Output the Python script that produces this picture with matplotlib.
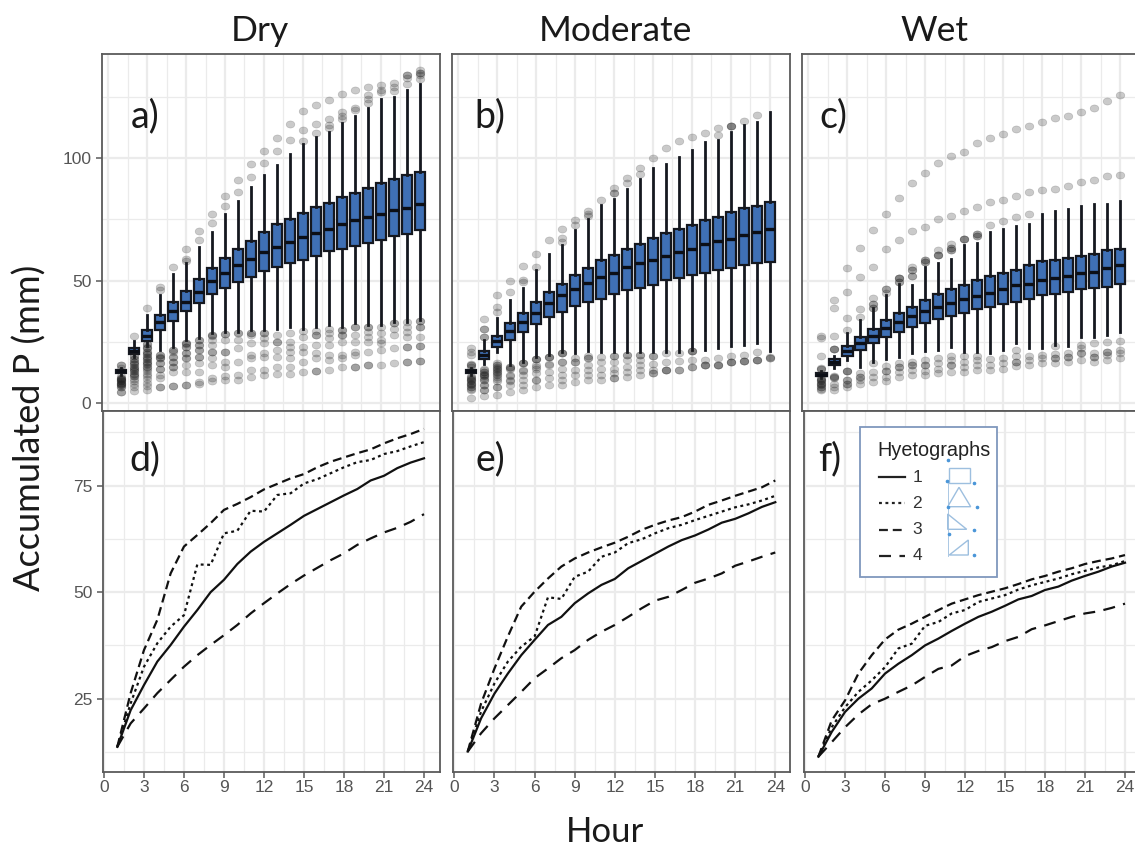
import matplotlib
matplotlib.use("Agg")
import matplotlib.pyplot as plt
from matplotlib.markers import MarkerStyle
from matplotlib.transforms import Affine2D
from matplotlib.patches import Rectangle, Polygon

hours = list(range(1, 25))

# panel a (Dry) box stats
a_q1 = [12.3, 20, 25.5, 29.7, 33.5, 37.6, 40.7, 44.4, 47, 49.4, 51.5, 53.9, 55.4, 57, 58.6, 60.2, 61.9, 63, 64.3, 65.5, 66.6, 68.2, 69.2, 70.6]
a_med = [13, 21.2, 27.5, 33.2, 37.5, 41.5, 45.5, 50, 53, 56.5, 59, 61.7, 63.8, 65.8, 67.6, 69.4, 71, 72.9, 74.5, 75.9, 77, 78.6, 79.6, 81.4]
a_q3 = [13.7, 22.7, 30, 36.2, 41.4, 45.7, 50.5, 55, 59.4, 63, 66.3, 69.9, 72.9, 75.3, 77.5, 79.8, 81.7, 83.9, 85.8, 87.7, 89.6, 91.6, 93.1, 94.3]
a_lo = [11.5, 19, 23.5, 21.7, 23, 25.8, 26.5, 28.5, 29, 29, 29.9, 29.9, 30.5, 31.2, 30.5, 31.2, 31.9, 31.2, 32.6, 31.9, 31.9, 33.2, 33.2, 33.9]
a_hi = [14.5, 25.5, 36, 44, 52.6, 57, 63.8, 69.7, 77, 82.4, 88, 93, 97.3, 101.6, 105.8, 108.5, 110.6, 114.2, 117, 120.5, 124, 125, 127.8, 130.2]
a_out = [
    [15.5, 15.5, 14.5, 11, 10.5, 10.5, 10, 10, 9.5, 9.5, 9, 9, 8.5, 8.5, 8, 8, 7.5, 7.5, 6.5, 6.5, 4.5, 4.5],
    [27.5, 19.5, 19.5, 18, 18, 17, 17, 16, 16, 15, 15, 14, 14, 13, 13, 12, 12, 11, 11, 10, 9, 8, 6.5, 5],
    [38.7, 24, 24, 23, 22.5, 22.5, 21, 21, 20, 20, 19, 19, 18, 18, 17, 17, 16, 16, 15, 15, 14, 13, 12, 11, 10, 8.5, 7, 5.5],
    [47.5, 46, 19.7, 19.7, 19, 18.3, 18.3, 16.3, 16.3, 14.2, 14.2, 11.5, 10.2, 6.5, 6.5],
    [55.6, 21.7, 21.7, 21, 19, 19, 16.9, 16.9, 15, 15, 12.9, 7, 7],
    [62.8, 59, 58, 24.4, 24.4, 24, 23, 23, 20.4, 20.4, 18.3, 18.3, 15.6, 12.9, 7.5, 7.5],
    [70.4, 66.6, 25.8, 25.8, 23.7, 23.7, 21.7, 21.7, 19, 19, 16.3, 12.9, 8.8, 8.1],
    [77, 73.3, 27.8, 27.8, 27.5, 25.8, 23.7, 21, 21, 18.3, 15.6, 10.2, 9.2],
    [84.5, 80.6, 28.1, 28.1, 25.8, 21, 21, 16.9, 14.9, 11, 9.5],
    [91.2, 86.2, 28.5, 28.5, 25.8, 22.7, 16.9, 11.5, 9.5],
    [97.4, 92.1, 28.8, 28.8, 27.8, 24.4, 19.7, 18.3, 13.6, 10.9],
    [102.7, 98, 28.8, 28.8, 26.5, 24.7, 20.4, 19, 13.6, 11.5],
    [108.3, 103, 27.8, 25, 25, 21.7, 19, 14.9, 11.8],
    [114, 107.3, 28.5, 25, 23, 21, 18.3, 14.9, 12],
    [119, 111.5, 106.9, 29.4, 27.1, 23, 21, 16.9, 12.9],
    [121.4, 113.7, 110, 29.6, 27.8, 27.8, 23.7, 20.4, 18.3, 13.3, 13.3],
    [123.6, 116, 113.3, 112.2, 30.5, 28.5, 26.5, 23.7, 19.7, 17.6, 13.6],
    [126, 118.7, 117, 116, 29.8, 29.8, 27.8, 27.8, 25, 19.7, 18.3, 15],
    [127.8, 120.5, 119.4, 31, 31, 27.8, 25, 21, 19.7, 15, 15],
    [128.9, 125.5, 123.9, 122.5, 31.2, 31.2, 29.2, 27.1, 25, 21, 15.6, 15.6],
    [129.6, 127.8, 126.9, 31, 28.5, 25.8, 24.4, 21.7, 15.6],
    [130.7, 128.9, 127.1, 32.6, 32.6, 30.5, 27.8, 22.4, 16.3],
    [133.6, 133.6, 132.7, 130.3, 33.2, 31.2, 29.2, 26.9, 23, 23, 16.9, 16.9],
    [135.7, 134.6, 134.6, 133.6, 132, 33.6, 33.6, 31.2, 31.2, 27.1, 23.5, 23.5, 17.4, 17.4],
]

# panel b (Moderate) box stats
b_q1 = [12.2, 17.9, 22.8, 25.8, 28.9, 32.3, 35, 37.4, 39.5, 41.2, 42.7, 44.4, 46.1, 47.1, 48.4, 50.2, 51, 52.4, 53.2, 54.5, 55.2, 56.3, 57, 57.7]
b_med = [13, 19.8, 25.3, 29.3, 33.2, 37, 40.8, 44, 46.6, 49, 51.3, 53, 55.4, 57, 58.4, 60, 61.5, 63, 64.8, 66, 66.9, 68.4, 70, 71]
b_q3 = [13.6, 21.4, 27.5, 32.8, 36.9, 41.2, 45.5, 48.7, 52.1, 55, 58.3, 60.5, 62.8, 65.1, 67.3, 69.5, 71.1, 72.7, 74.5, 76.1, 78, 79.4, 80.6, 82.1]
b_lo = [11.5, 16, 21, 15.6, 17, 19, 19.7, 21, 20.6, 21.3, 21, 21, 21, 21, 21, 21, 21, 21.7, 21.7, 22.7, 23.3, 23.7, 24.7, 21.3]
b_hi = [14.5, 25.8, 34.6, 42, 46.8, 54.3, 61, 64.5, 70.6, 75.3, 81, 83.4, 87.5, 91.6, 95.7, 97.7, 100.4, 103.1, 106.5, 107.2, 110.6, 113.3, 114.7, 118.7]
b_out = [
    [22.4, 21, 19.7, 16, 15.6, 15.6, 15, 11, 10.9, 10.5, 10, 9.5, 9.5, 9, 8.5, 8.1, 8, 7.5, 6.8, 6.8, 6, 5.4, 2.3],
    [34.2, 30.5, 30.5, 27.1, 27.1, 14, 13.5, 12.9, 12.9, 12, 11.5, 11.5, 11, 10.5, 9.5, 9.5, 7.5, 7.5, 5.4, 5.4, 3.1],
    [44, 39.3, 37.3, 16.5, 15.6, 15.6, 15, 14.5, 14, 13.5, 12.9, 12.9, 12, 11.5, 10.9, 10, 9, 6.8, 6.8, 3.4],
    [50, 45.5, 15, 14.9, 14.5, 14, 11.5, 11, 9.5, 9, 7.5, 4.7],
    [55.9, 50.2, 49.5, 16.3, 16.3, 16.3, 13.6, 13, 11.5, 9.5, 7.5, 5.4],
    [60.9, 55.4, 18, 18, 18, 15.6, 14.9, 14, 12.2, 9.5, 9.5, 6.8],
    [66.4, 18.7, 18.7, 18.7, 16, 15.6, 12.9, 10.2, 7.5],
    [71.1, 67.4, 65.8, 20.4, 20.4, 20.4, 17, 17, 14.2, 11.5, 9.5, 7.5],
    [74.6, 72.6, 18.3, 17, 17, 13.6, 11.5, 8.8],
    [78.3, 77.3, 76.4, 19.3, 18.3, 18.3, 15.6, 13.6, 11.5, 9.5],
    [83, 19, 17, 14.2, 11.5, 9.5],
    [87.8, 85.5, 85.5, 19.3, 19.3, 17, 14.2, 12.2, 10.2, 10.2],
    [91.9, 89.8, 19.7, 19.7, 17.6, 14.9, 12.9, 10.9],
    [95.9, 93.6, 19.7, 19.7, 17.6, 15.6, 13.6, 11.5],
    [100, 19.3, 19.3, 16, 13.8, 12.5, 12.5],
    [103.9, 20.4, 17, 13.6, 13.6, 13.6],
    [106.9, 20.6, 17.4, 13.6, 13.6],
    [108.4, 21.4, 21.4, 21.4, 17.6, 14.9, 14.9],
    [110.2, 17.6, 15.6, 15.6, 15.6],
    [112.2, 109.2, 18.3, 15.6, 15.6, 15.6],
    [112.9, 112.9, 112.9, 19.3, 16.7, 16.7, 16.7],
    [115.2, 19.7, 17.4, 17.4, 17.4],
    [117.6, 20.8, 17.6, 17.6, 17.6],
    [18.9, 18.3, 18.3],
]

# panel c (Wet) box stats
c_q1 = [11, 15.6, 19.4, 21.7, 24.7, 26.9, 29.2, 31.2, 32.6, 34.2, 35.7, 36.9, 38.3, 39.2, 40.4, 41.4, 42.7, 44.1, 44.6, 45.2, 46.5, 47.2, 47.5, 48.7]
c_med = [11.7, 16.8, 21.4, 24.7, 27.5, 30.8, 33.2, 35.8, 37.5, 39.3, 40.7, 42.4, 43.9, 45, 46.4, 48.2, 48.7, 50.3, 51, 52, 53, 53.6, 55.1, 56.5]
c_q3 = [12.2, 17.9, 23.3, 26.9, 30.1, 33.9, 36.9, 39.3, 42.1, 44.4, 46.4, 48.2, 50.2, 51.8, 53.3, 54.5, 56.2, 57.8, 58.6, 59.4, 60.2, 61, 62.3, 63]
c_lo = [10.5, 14.5, 17.5, 14.9, 17, 17.9, 19, 20.4, 21.3, 21.7, 22.8, 21, 21, 20.6, 21.7, 24.4, 22.7, 22.7, 23.7, 23.5, 26.9, 27, 27.8, 29.2]
c_hi = [13, 19.5, 28.5, 33.9, 38.7, 44, 48.8, 48.2, 55.6, 57, 59, 64.5, 65.2, 69.9, 71, 72.3, 73, 77.3, 78.4, 79.1, 80.5, 81.1, 81.4, 82.5]
c_out = [
    [27.5, 26.5, 19.4, 14.6, 14, 14, 10.5, 10, 9.5, 9.5, 9, 8.5, 8.1, 8.1, 7.5, 6.8, 6.8, 6, 5.4],
    [42, 38.7, 27.5, 22.1, 22.1, 22.1, 11, 10.9, 10.9, 10.5, 8.1, 6.8, 5.4],
    [55, 45.3, 34.6, 30, 13.3, 13.3, 13.3, 9.5, 9.5, 8.1, 8.1, 6.5],
    [63.5, 51.6, 38.3, 35, 12.5, 10.9, 10.9, 9.5, 8.1],
    [70.6, 55.6, 43, 40.3, 40.3, 39, 39, 16.3, 12.9, 10.9, 8.8],
    [77.3, 62.8, 46.4, 46.4, 45, 15.2, 13.3, 13.3, 10.9, 9.2],
    [83.7, 66.4, 50.9, 50.9, 50.9, 49.5, 49.5, 16.6, 14.9, 14.9, 12.9, 10.6],
    [89.8, 70.2, 55.6, 54.3, 54.3, 52, 52, 17, 15.6, 15.6, 13.6, 11.5],
    [93.9, 71.9, 58.3, 58.3, 57.4, 57.4, 17.6, 15.6, 15.6, 13.3, 11.5],
    [98, 75, 62.4, 60.4, 60.4, 60.4, 18.3, 16.3, 14.2, 12.2],
    [100.8, 76.4, 65, 63.4, 63.4, 62.4, 62.4, 19.4, 17.6, 15.6, 15.6, 12.9],
    [102.4, 78.2, 66.8, 66.8, 66.8, 19.4, 17, 14.9, 12.9],
    [106.2, 80, 69.2, 69.2, 68.2, 68.2, 19.4, 17.6, 15.6, 13.6],
    [108, 82, 72.6, 17.9, 15.6, 13.6],
    [109.9, 82.9, 74.2, 18.3, 16.3, 14.2],
    [111.8, 84.4, 76, 21.7, 19.3, 17, 17, 15.2],
    [112.9, 86, 77, 19.3, 17.6, 15.6],
    [114.5, 87, 19.7, 18.3, 16.3],
    [116.1, 87.4, 23.3, 20.1, 18.3, 18.3, 16.3],
    [117.1, 88.7, 20.4, 19, 19, 17],
    [118.5, 90.2, 23.7, 22.4, 20.4, 20.4, 17.6],
    [120.2, 91, 24.7, 20.4, 19, 19, 17],
    [123.2, 92.5, 25, 21, 21, 19.7, 17.6],
    [125.5, 93.2, 25.5, 21.7, 20.4, 18.3],
]

# accumulated P of the four hyetographs
d_h1 = [13.7, 22.3, 28.2, 33.7, 37.6, 41.9, 45.8, 50, 52.9, 56.6, 59.5, 61.8, 63.8, 65.8, 67.9, 69.5, 71.1, 72.7, 74.2, 76.2, 77.3, 79.1, 80.4, 81.4]
d_h2 = [13.7, 23.9, 32.5, 38, 41.9, 44.6, 56.5, 56.4, 63.8, 64.4, 69.1, 68.9, 72.8, 73.2, 75.5, 76.5, 77.9, 79.3, 80.5, 81, 82.4, 83.1, 84.2, 85.2]
d_h3 = [13.7, 26.3, 36.4, 43.5, 54.4, 60.7, 63.4, 66.2, 69.3, 70.7, 72.3, 74.1, 75.4, 76.7, 77.7, 79.3, 80.6, 81.6, 82.6, 83.5, 84.9, 86.1, 87.1, 88.3]
d_h4 = [13.7, 19.2, 22.7, 26.3, 29.4, 32.5, 35.2, 37.6, 39.9, 42.3, 45, 47.4, 49.7, 51.9, 53.9, 55.7, 57.5, 59.1, 61.1, 62.6, 64, 65.1, 66.5, 68.3]

e_h1 = [12.6, 20.4, 26.2, 30.9, 35.2, 38.8, 42.3, 44.2, 47.4, 49.7, 51.7, 53.1, 55.6, 57.3, 59, 60.7, 62.2, 63.3, 64.7, 66.3, 67.2, 68.5, 70, 71.1]
e_h2 = [12.6, 22, 28.6, 33.7, 37.2, 39.6, 48.8, 48.4, 53.6, 54.8, 58.3, 59.3, 61.5, 62.4, 63.8, 65, 65.8, 66.9, 67.9, 68.9, 69.9, 70.6, 71.5, 72.6]
e_h3 = [12.6, 23.9, 32.1, 39.6, 46.6, 50.1, 53.2, 56, 57.9, 59.3, 60.5, 61.6, 63, 64.6, 65.8, 66.8, 67.6, 68.9, 70.5, 71.5, 72.6, 73.6, 74.6, 76.2]
e_h4 = [12.6, 16.9, 20.4, 23.5, 26.6, 29.8, 32.1, 34.5, 36.4, 38.8, 40.7, 42.3, 44.2, 46.2, 48, 48.9, 50.5, 52.2, 53.2, 54.4, 56.2, 57.2, 58.3, 59.3]

f_h1 = [11.4, 17.2, 21.9, 25, 27.4, 30.9, 33.2, 35.2, 37.5, 39.1, 40.9, 42.6, 44.2, 45.4, 46.8, 48.3, 49.1, 50.5, 51.3, 52.7, 53.8, 54.8, 56, 56.9]
f_h2 = [11.4, 18.3, 23, 26.6, 29.3, 32.4, 36.8, 37.9, 42.1, 43, 45, 45.8, 47.7, 48.5, 49.3, 50.6, 51.6, 52.4, 53.2, 54.2, 55, 55.8, 56.3, 57.3]
f_h3 = [11.4, 19.9, 24.6, 30.9, 35.2, 38.9, 41.2, 42.6, 44.2, 45.8, 47.3, 48.3, 49.3, 50.1, 50.9, 51.9, 53, 53.8, 54.8, 55.6, 56.6, 57.3, 57.9, 58.7]
f_h4 = [11.4, 14.8, 18.3, 21.3, 23.7, 25, 26.6, 28.1, 30.1, 32, 32.8, 35, 36.2, 37.1, 38.5, 39.5, 41.3, 42.2, 43.2, 44.2, 45, 45.5, 46.3, 47.3]

titles = ["Dry", "Moderate", "Wet"]
legend_labels = ["1", "2", "3", "4"]

W, H = 1135, 846
GRID = "#ebebeb"
SPINE = "#5a5a5a"
TICKC = "#555555"
BLUE = "#3f70b5"
LSTYLES = ["-", (0, (1.3, 1.6)), (0, (4, 2.2)), (0, (5.4, 3.8))]
plt.rcParams["font.family"] = ["Liberation Sans", "DejaVu Sans"]
TITLEFONT = ["Lato", "DejaVu Sans"]

fig = plt.figure(figsize=(W / 100, H / 100), dpi=100)


def px_axes(left, right, top, bottom):
    return fig.add_axes([left / W, 1 - bottom / H, (right - left) / W, (bottom - top) / H])


def style_axes(ax, yticks, yminor, xlim, ylim):
    ax.set_xlim(*xlim)
    ax.set_ylim(*ylim)
    ax.set_xticks(range(0, 25, 3))
    ax.set_xticks([1.5 + 3 * i for i in range(8)], minor=True)
    ax.set_yticks(yticks)
    ax.set_yticks(yminor, minor=True)
    ax.grid(True, which="major", color=GRID, lw=1.6)
    ax.grid(True, which="minor", color=GRID, lw=0.9)
    ax.set_axisbelow(True)
    ax.tick_params(which="minor", length=0)
    ax.tick_params(which="major", length=4, width=1.1, color=SPINE, labelcolor=TICKC, labelsize=12.5)
    for s in ax.spines.values():
        s.set_color(SPINE)
        s.set_linewidth(1.3)


def box_panel(ax, q1, med, q3, lo, hi, out):
    stats = []
    for i in range(len(hours)):
        stats.append({"med": med[i], "q1": q1[i], "q3": q3[i], "whislo": lo[i], "whishi": hi[i], "fliers": out[i]})
    ell = MarkerStyle("o", transform=Affine2D().scale(1.15, 0.95))
    ax.bxp(stats, positions=hours, widths=0.78, patch_artist=True, showcaps=False, manage_ticks=False,
           boxprops={"facecolor": BLUE, "edgecolor": "#15181f", "linewidth": 1.6},
           whiskerprops={"color": "#15181f", "linewidth": 2.0},
           medianprops={"color": "#0c0f16", "linewidth": 2.4},
           flierprops={"marker": ell, "markersize": 5.4, "markerfacecolor": "#222222",
                       "markeredgecolor": "#222222", "markeredgewidth": 0.4, "alpha": 0.24, "linestyle": "none"})


# top row
top_box = [(101.7, 440), (451.7, 790), (802, 1141)]
top_data = [
    (a_q1, a_med, a_q3, a_lo, a_hi, a_out),
    (b_q1, b_med, b_q3, b_lo, b_hi, b_out),
    (c_q1, c_med, c_q3, c_lo, c_hi, c_out),
]
top_xlim = [(-0.5, 25.57), (-0.5, 25.55), (-0.5, 25.6)]
for j in range(3):
    ax = px_axes(top_box[j][0], top_box[j][1], 54.3, 411)
    style_axes(ax, [0, 50, 100], [25, 75, 125], top_xlim[j], (-3.1, 142.2))
    box_panel(ax, *top_data[j])
    ax.tick_params(axis="x", which="both", length=0, labelbottom=False)
    if j > 0:
        ax.tick_params(axis="y", which="both", length=0, labelleft=False)

# bottom row
bot_box = [(103.3, 440), (453.3, 790), (804, 1141)]
bot_xlim = [(-0.05, 25.2), (-0.08, 25.1), (-0.08, 25.2)]
bot_data = [
    (d_h1, d_h2, d_h3, d_h4),
    (e_h1, e_h2, e_h3, e_h4),
    (f_h1, f_h2, f_h3, f_h4),
]
for j in range(3):
    ax = px_axes(bot_box[j][0], bot_box[j][1], 411, 772)
    style_axes(ax, [25, 50, 75], [12.5, 37.5, 62.5, 87.5], bot_xlim[j], (7.8, 92.5))
    for series, ls in zip(bot_data[j], LSTYLES):
        ax.plot(hours, series, color="#111111", lw=1.6, ls=ls)
    ax.tick_params(axis="x", pad=2)
    if j > 0:
        ax.tick_params(axis="y", which="both", length=0, labelleft=False)

# overlay in pixel coordinates for the legend box and the large labels
ov = fig.add_axes([0, 0, 1, 1], zorder=10)
ov.set_xlim(0, W)
ov.set_ylim(H, 0)
ov.axis("off")
ov.patch.set_alpha(0)

for name, x in zip(titles, [260, 615, 934]):
    ov.text(x, 31, name, ha="center", va="center", fontsize=25.5, family=TITLEFONT, color="#1a1a1a")
ov.text(30, 428, "Accumulated P (mm)", rotation=90, ha="center", va="center", fontsize=26, family=TITLEFONT, color="#1a1a1a")
ov.text(605, 832, "Hour", ha="center", va="center", fontsize=25, family=TITLEFONT, color="#1a1a1a")
for lab, x, y in zip(["a)", "b)", "c)", "d)", "e)", "f)"],
                     [145, 490, 833, 145, 490, 830],
                     [116, 116, 116, 459, 459, 459]):
    ov.text(x, y, lab, ha="center", va="center", fontsize=27, family=TITLEFONT, color="#1a1a1a")

ov.add_patch(Rectangle((859.5, 427.3), 137, 149.4, fc="white", ec="#7f97bd", lw=1.3))
ov.text(934, 451, "Hyetographs", ha="center", va="center", fontsize=14.3, color="#222222")
for lab, ls, y in zip(legend_labels, LSTYLES, [477, 503.5, 530, 556]):
    ov.plot([879, 905], [y, y], color="#222222", lw=1.6, ls=ls)
    ov.text(917, y, lab, ha="center", va="center", fontsize=12.5, color="#333333")
SHAPE = "#9dbfdf"
ov.add_patch(Rectangle((948.5, 467.7), 21, 15, fc="none", ec=SHAPE, lw=1))
ov.add_patch(Polygon([(947.7, 506.7), (959, 487.3), (970.7, 506.7)], fc="none", ec=SHAPE, lw=1))
ov.add_patch(Polygon([(947.7, 514), (947.7, 529.3), (966.7, 529.3)], fc="none", ec=SHAPE, lw=1))
ov.add_patch(Polygon([(949.3, 555), (968.3, 540), (968.3, 555)], fc="none", ec=SHAPE, lw=1))
ov.plot([947.7, 947.7], [480, 556], color=SHAPE, lw=0.6)
ov.plot([948, 946.7, 974, 947.7, 977, 974, 949, 974], [460.5, 481, 482.7, 506.7, 506.7, 530, 534.5, 555],
        ls="none", marker="o", ms=1.6, color="#4b96d8")

fig.savefig("out.png", dpi=100)
